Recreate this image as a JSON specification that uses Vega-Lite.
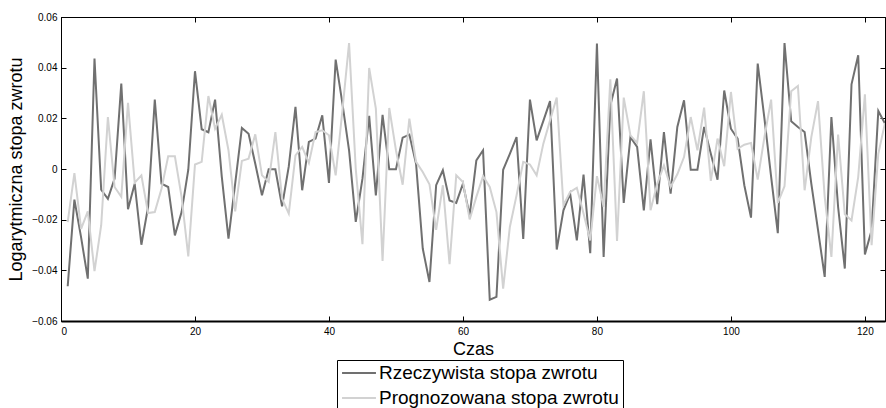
{
  "$schema": "https://vega.github.io/schema/vega-lite/v6.json",
  "width": 824,
  "height": 304,
  "autosize": {"type": "none"},
  "padding": {"left": 61, "top": 17, "right": 1, "bottom": 87},
  "background": "white",
  "config": {
    "font": "Liberation Sans",
    "view": {"stroke": "black", "strokeWidth": 1},
    "axis": {
      "domainColor": "black",
      "tickColor": "black",
      "labelColor": "black",
      "titleColor": "black",
      "grid": false,
      "labelFont": "Liberation Sans",
      "titleFont": "Liberation Sans",
      "labelFontSize": 10,
      "titleFontSize": 17,
      "titleFontWeight": "normal",
      "tickSize": -5
    }
  },
  "data": {
    "values": [
      {"t":1,"r":-0.0463,"p":-0.021},{"t":2,"r":-0.0121,"p":-0.0016},{"t":3,"r":-0.027,"p":-0.0236},{"t":4,"r":-0.0433,"p":-0.0167},{"t":5,"r":0.0436,"p":-0.0403},
      {"t":6,"r":-0.0082,"p":-0.0222},{"t":7,"r":-0.0118,"p":0.0205},{"t":8,"r":-0.0038,"p":-0.0071},{"t":9,"r":0.0337,"p":-0.011},{"t":10,"r":-0.0159,"p":0.0261},
      {"t":11,"r":-0.0058,"p":-0.0054},{"t":12,"r":-0.0299,"p":-0.0025},{"t":13,"r":-0.015,"p":-0.0174},{"t":14,"r":0.0274,"p":-0.017},{"t":15,"r":-0.0058,"p":-0.0078},
      {"t":16,"r":-0.0071,"p":0.005},{"t":17,"r":-0.0262,"p":0.005},{"t":18,"r":-0.017,"p":-0.011},{"t":19,"r":-0.0003,"p":-0.0345},{"t":20,"r":0.0386,"p":0.0018},
      {"t":21,"r":0.0157,"p":0.0028},{"t":22,"r":0.0145,"p":0.0288},{"t":23,"r":0.0274,"p":0.0159},{"t":24,"r":-0.003,"p":0.0214},{"t":25,"r":-0.0275,"p":0.0074},
      {"t":26,"r":-0.0058,"p":-0.0167},{"t":27,"r":0.0162,"p":0.0032},{"t":28,"r":0.0139,"p":0.0041},{"t":29,"r":0.0021,"p":0.0137},{"t":30,"r":-0.0104,"p":-0.0025},
      {"t":31,"r":-0.0001,"p":-0.0051},{"t":32,"r":-0.0001,"p":0.0146},{"t":33,"r":-0.0147,"p":-0.0117},{"t":34,"r":0.001,"p":-0.0176},{"t":35,"r":0.0245,"p":0.0054},
      {"t":36,"r":-0.0084,"p":0.0087},{"t":37,"r":0.0107,"p":0.0024},{"t":38,"r":0.012,"p":0.0146},{"t":39,"r":0.0212,"p":0.0153},{"t":40,"r":-0.0055,"p":0.0133},
      {"t":41,"r":0.0432,"p":-0.0025},{"t":42,"r":0.026,"p":0.023},{"t":43,"r":0.0074,"p":0.0497},{"t":44,"r":-0.0209,"p":0.0},{"t":45,"r":-0.0038,"p":-0.0297},
      {"t":46,"r":0.021,"p":0.0399},{"t":47,"r":-0.0104,"p":0.0238},{"t":48,"r":0.0214,"p":-0.0363},{"t":49,"r":-0.0001,"p":0.0241},{"t":50,"r":-0.0001,"p":0.0074},
      {"t":51,"r":0.0124,"p":-0.0062},{"t":52,"r":0.0136,"p":0.0199},{"t":53,"r":0.0021,"p":0.0028},{"t":54,"r":-0.0314,"p":-0.0012},{"t":55,"r":-0.0446,"p":-0.006},
      {"t":56,"r":-0.0064,"p":-0.024},{"t":57,"r":-0.0005,"p":-0.0064},{"t":58,"r":-0.0124,"p":-0.0376},{"t":59,"r":-0.0134,"p":-0.0025},{"t":60,"r":-0.0058,"p":-0.0051},
      {"t":61,"r":-0.0183,"p":-0.0199},{"t":62,"r":0.0034,"p":-0.011},{"t":63,"r":0.0074,"p":-0.0028},{"t":64,"r":-0.0516,"p":-0.0071},{"t":65,"r":-0.0505,"p":-0.017},
      {"t":66,"r":-0.0003,"p":-0.0472},{"t":67,"r":0.006,"p":-0.0229},{"t":68,"r":0.0126,"p":-0.0104},{"t":69,"r":-0.0276,"p":0.0028},{"t":70,"r":0.0274,"p":0.0018},
      {"t":71,"r":0.0113,"p":-0.0025},{"t":72,"r":0.019,"p":0.01},{"t":73,"r":0.0268,"p":0.0192},{"t":74,"r":-0.0318,"p":0.0282},{"t":75,"r":-0.0163,"p":-0.0143},
      {"t":76,"r":-0.0097,"p":-0.0091},{"t":77,"r":-0.0282,"p":-0.0074},{"t":78,"r":-0.0022,"p":-0.0176},{"t":79,"r":-0.0332,"p":-0.0282},{"t":80,"r":0.0495,"p":-0.0028},
      {"t":81,"r":-0.0347,"p":-0.015},{"t":82,"r":0.0251,"p":0.0354},{"t":83,"r":0.0357,"p":-0.0284},{"t":84,"r":-0.0134,"p":0.0282},{"t":85,"r":0.0126,"p":0.0133},
      {"t":86,"r":0.0087,"p":0.0103},{"t":87,"r":-0.0163,"p":0.0307},{"t":88,"r":0.0117,"p":-0.0163},{"t":89,"r":-0.0139,"p":-0.0058},{"t":90,"r":0.0146,"p":0.0014},
      {"t":91,"r":-0.0097,"p":-0.0071},{"t":92,"r":0.0166,"p":-0.0021},{"t":93,"r":0.0271,"p":0.0047},{"t":94,"r":-0.0003,"p":0.0205},{"t":95,"r":-0.0003,"p":0.0074},
      {"t":96,"r":0.0166,"p":0.0242},{"t":97,"r":0.006,"p":-0.0047},{"t":98,"r":-0.0042,"p":0.012},{"t":99,"r":0.031,"p":0.0011},{"t":100,"r":0.0159,"p":0.0304},
      {"t":101,"r":0.012,"p":0.008},{"t":102,"r":-0.0064,"p":0.0096},{"t":103,"r":-0.0192,"p":0.0103},{"t":104,"r":0.0416,"p":-0.0042},{"t":105,"r":0.02,"p":0.0126},
      {"t":106,"r":-0.003,"p":0.0274},{"t":107,"r":-0.0253,"p":-0.0134},{"t":108,"r":0.0497,"p":-0.0068},{"t":109,"r":0.0188,"p":0.0307},{"t":110,"r":0.0166,"p":0.0328},
      {"t":111,"r":0.0146,"p":-0.0084},{"t":112,"r":-0.0058,"p":0.0126},{"t":113,"r":-0.024,"p":0.0268},{"t":114,"r":-0.0426,"p":-0.011},{"t":115,"r":0.0205,"p":-0.0347},
      {"t":116,"r":-0.015,"p":0.0136},{"t":117,"r":-0.0393,"p":-0.0179},{"t":118,"r":0.0334,"p":-0.0203},{"t":119,"r":0.0449,"p":-0.0032},{"t":120,"r":-0.0337,"p":0.0295},
      {"t":121,"r":-0.0242,"p":-0.0301},{"t":122,"r":0.0229,"p":0.006},{"t":123,"r":0.0179,"p":0.0182}
    ]
  },
  "layer": [
    {
      "mark": {"type": "line", "strokeWidth": 2, "clip": true},
      "encoding": {
        "x": {"field": "t", "type": "quantitative", "scale": {"domain": [0, 123], "nice": false, "zero": false},
              "axis": {"orient": "bottom", "values": [0,20,40,60,80,100,120], "title": "Czas", "labelPadding": 10, "titlePadding": 4, "titleFontSize": 18, "domainWidth": 2}},
        "y": {"field": "r", "type": "quantitative", "scale": {"domain": [-0.06, 0.06], "nice": false},
              "axis": {"orient": "left", "values": [-0.06,-0.04,-0.02,0,0.02,0.04,0.06], "labelExpr": "datum.value == 0 ? '0' : format(datum.value, '.2f')", "title": "Logarytmiczna stopa zwrotu", "titleFontSize": 18, "labelPadding": 9, "titlePadding": 6}},
        "color": {"datum": "Rzeczywista stopa zwrotu", "type": "nominal",
                  "scale": {"domain": ["Rzeczywista stopa zwrotu", "Prognozowana stopa zwrotu"], "range": ["#707070", "#d2d2d2"]},
                  "legend": {"title": null, "orient": "none", "legendX": 276, "legendY": 343, "direction": "vertical",
                             "symbolType": "stroke", "symbolSize": 1150, "symbolStrokeWidth": 2, "clipHeight": 18,
                             "labelFontSize": 19, "labelFont": "Liberation Sans", "labelColor": "black", "labelLimit": 400,
                             "strokeColor": "black", "fillColor": "white", "padding": 4, "rowPadding": 6, "labelOffset": 2}}
      }
    },
    {
      "mark": {"type": "line", "strokeWidth": 2, "clip": true},
      "encoding": {
        "x": {"field": "t", "type": "quantitative", "scale": {"domain": [0, 123], "nice": false, "zero": false},
              "axis": {"orient": "top", "values": [0,20,40,60,80,100,120], "labels": false, "title": null}},
        "y": {"field": "p", "type": "quantitative", "scale": {"domain": [-0.06, 0.06], "nice": false},
              "axis": {"orient": "right", "values": [-0.06,-0.04,-0.02,0,0.02,0.04,0.06], "labels": false, "title": null}},
        "color": {"datum": "Prognozowana stopa zwrotu", "type": "nominal"}
      }
    }
  ],
  "resolve": {"axis": {"x": "independent", "y": "independent"}}
}
